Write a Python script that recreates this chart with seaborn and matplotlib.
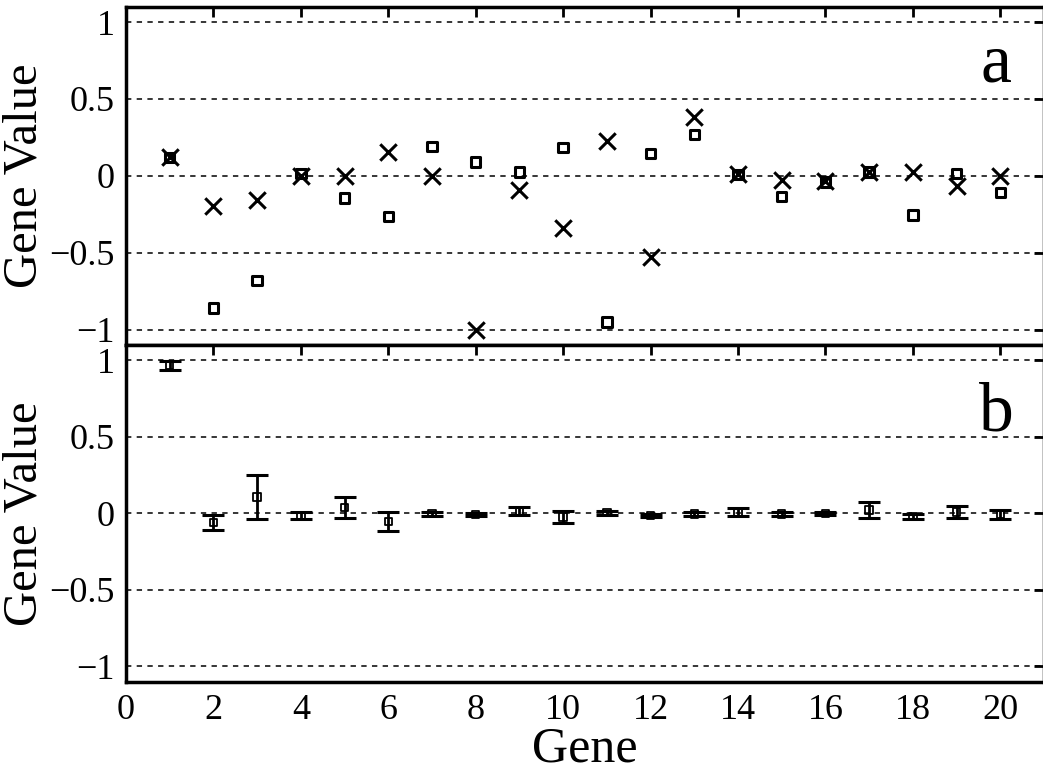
import numpy as np
import pandas as pd
import matplotlib
matplotlib.use("Agg")
import matplotlib.pyplot as plt
import seaborn as sns

genes = list(range(1, 21))
# Panel a: two estimates per gene
a_squares = [0.12, -0.86, -0.68, 0.015, -0.145, -0.265, 0.19, 0.09, 0.025, 0.185,
             -0.95, 0.145, 0.27, 0.01, -0.135, -0.04, 0.025, -0.255, 0.017, -0.11]
a_crosses = [0.12, -0.195, -0.16, 0.0, 0.0, 0.155, 0.0, -1.0, -0.095, -0.34,
             0.225, -0.525, 0.385, 0.01, -0.025, -0.035, 0.025, 0.025, -0.065, 0.0]
# Panel b: mean and error
b_mean = [0.965, -0.06, 0.107, -0.012, 0.04, -0.052, -0.003, -0.008, 0.015, -0.024,
          0.004, -0.015, -0.004, 0.009, -0.004, 0.0, 0.022, -0.022, 0.009, -0.006]
b_err = [0.028, 0.05, 0.143, 0.022, 0.07, 0.064, 0.012, 0.012, 0.027, 0.04,
         0.012, 0.012, 0.015, 0.026, 0.012, 0.012, 0.05, 0.015, 0.04, 0.03]

yticks = [-1, -0.5, 0, 0.5, 1]
ytick_labels = ["\u22121", "\u22120.5", "0", "0.5", "1"]
xticks = list(range(0, 21, 2))

sns.set_style("white")
plt.rcParams["font.family"] = ["Liberation Serif", "DejaVu Serif"]
plt.rcParams["text.color"] = "black"
plt.rcParams["axes.labelcolor"] = "black"
plt.rcParams["xtick.color"] = "black"
plt.rcParams["ytick.color"] = "black"

W, H = 1043, 773
fig = plt.figure(figsize=(W / 100, H / 100), dpi=100)
axa = fig.add_axes([126 / W, (H - 345) / H, 918 / W, (345 - 6.7) / H])
axb = fig.add_axes([126 / W, (H - 681.7) / H, 918 / W, (681.7 - 345) / H])

dfa = pd.DataFrame({"gene": genes, "sq": a_squares, "cr": a_crosses})
dfb = pd.DataFrame({"gene": genes, "mean": b_mean, "err": b_err})

sns.scatterplot(data=dfa, x="gene", y="cr", ax=axa, marker="x", color="black",
                s=140, linewidth=2.2, zorder=4)
sns.scatterplot(data=dfa, x="gene", y="sq", ax=axa, marker="s", facecolors="none",
                edgecolors="black", s=45, linewidth=2.2, zorder=5)

axb.errorbar(dfb["gene"], dfb["mean"], yerr=dfb["err"], fmt="none", ecolor="black",
             elinewidth=2.0, capsize=8, capthick=2.2, zorder=4)
sns.scatterplot(data=dfb, x="gene", y="mean", ax=axb, marker="s", facecolors="none",
                edgecolors="black", s=28, linewidth=1.3, zorder=5)

for ax in (axa, axb):
    ax.set_xlim(0, 21)
    ax.set_ylim(-1.1, 1.1)
    ax.set_yticks(yticks)
    ax.set_yticklabels(ytick_labels)
    ax.set_xticks(xticks)
    for y in yticks:
        ax.axhline(y, color="black", linestyle=(0, (3.5, 3.5)), linewidth=1.1, zorder=1)
    ax.tick_params(axis="both", direction="in", length=7, width=2, top=True, right=True,
                   labelsize=26, pad=8, colors="black")
    for sp in ax.spines.values():
        sp.set_linewidth(2.5)
        sp.set_color("black")
    ax.set_ylabel("Gene Value", fontsize=35, labelpad=2, color="black")
    ax.set_xlabel("")

axa.tick_params(axis="x", labelbottom=False)
axb.tick_params(axis="x", pad=9)
axb.set_xlabel("Gene", fontsize=36, labelpad=-1, color="black")

axa.text(19.9, 0.615, "a", fontsize=50, ha="center", va="baseline", color="black")
axb.text(19.9, 0.54, "b", fontsize=50, ha="center", va="baseline", color="black")

fig.savefig("out.png", dpi=100)
